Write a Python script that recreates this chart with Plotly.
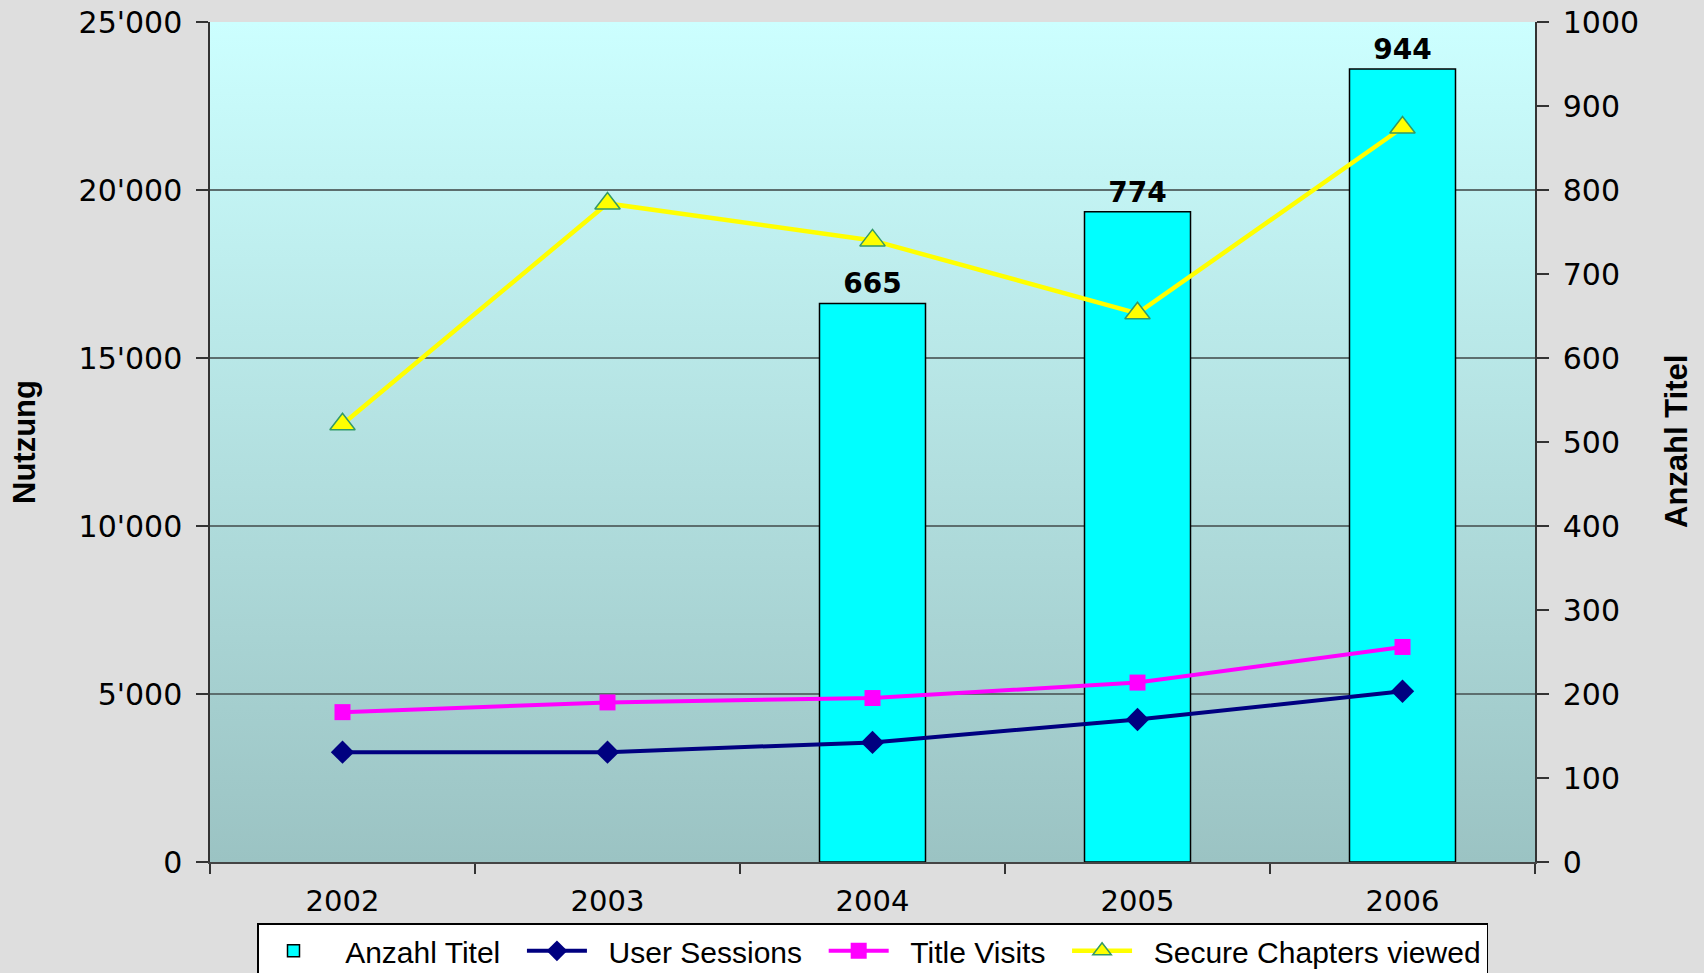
import base64
import plotly.graph_objects as go

years = ["2002", "2003", "2004", "2005", "2006"]
anzahl_titel = [None, None, 665, 774, 944]
user_sessions = [3270, 3270, 3560, 4240, 5080]
title_visits = [4460, 4750, 4880, 5340, 6400]
secure_chapters = [13030, 19600, 18500, 16330, 21860]

left_ticks = [0, 5000, 10000, 15000, 20000, 25000]
left_ticktext = ["0", "5'000", "10'000", "15'000", "20'000", "25'000"]
right_ticks = list(range(0, 1001, 100))

FONT = "DejaVu Sans, Liberation Sans, Arial, sans-serif"
LFONT = "Liberation Sans, Arial, sans-serif"
NB = "\u00a0"

svg = ('<svg xmlns="http://www.w3.org/2000/svg" width="100" height="100" preserveAspectRatio="none">'
       '<defs><linearGradient id="g" x1="0" y1="0" x2="0" y2="1">'
       '<stop offset="0" stop-color="#CCFFFF"/><stop offset="1" stop-color="#9BC3C3"/>'
       '</linearGradient></defs><rect width="100" height="100" fill="url(#g)"/></svg>')
src = "data:image/svg+xml;base64," + base64.b64encode(svg.encode()).decode()

fig = go.Figure()
fig.add_trace(go.Bar(
    x=years, y=anzahl_titel, name=NB * 2 + "Anzahl Titel" + NB * 2, yaxis="y",
    marker=dict(color="#00FFFF", line=dict(color="black", width=1.5)),
    width=0.4,
    text=[("" if v is None else str(v)) for v in anzahl_titel],
    textposition="outside", cliponaxis=False,
    textfont=dict(family=FONT, size=28, color="black", weight="bold"),
))
fig.add_trace(go.Scatter(
    x=years, y=user_sessions, name=NB * 2 + "User Sessions" + NB * 2, mode="lines+markers", yaxis="y2",
    line=dict(color="#000080", width=4),
    marker=dict(symbol="diamond", size=18, color="#000080"),
))
fig.add_trace(go.Scatter(
    x=years, y=title_visits, name=NB * 2 + "Title Visits" + NB * 2, mode="lines+markers", yaxis="y2",
    line=dict(color="#FF00FF", width=4),
    marker=dict(symbol="square", size=16, color="#FF00FF"),
))
fig.add_trace(go.Scatter(
    x=years, y=secure_chapters, name=NB * 2 + "Secure Chapters viewed", mode="lines+markers", yaxis="y2",
    line=dict(color="#FFFF00", width=4.5),
    marker=dict(symbol="triangle-up", size=22, color="#FFFF00", line=dict(color="#339966", width=1.5)),
))

plot_w = 1704 - 210 - 169

fig.update_layout(
    width=1704, height=973,
    margin=dict(l=210, r=169, t=22, b=111, autoexpand=False),
    paper_bgcolor="#DEDEDE",
    plot_bgcolor="rgba(0,0,0,0)",
    font=dict(family=FONT, size=30, color="black"),
    showlegend=True,
    images=[dict(source=src, xref="paper", yref="paper", x=0, y=1, sizex=1, sizey=1,
                 sizing="stretch", layer="below", xanchor="left", yanchor="top")],
    xaxis=dict(
        type="category", range=[-0.5, 4.5], tickson="boundaries",
        ticks="outside", ticklen=10, tickcolor="#333", tickwidth=1.5,
        showline=True, linecolor="#444", linewidth=2, showgrid=False,
        tickfont=dict(size=29, family=FONT), ticklabelstandoff=12,
    ),
    yaxis=dict(
        range=[0, 1000], tickvals=right_ticks, side="right",
        ticks="outside", ticklen=12, tickcolor="#333", tickwidth=1.5,
        showline=True, linecolor="#333", linewidth=1.5, showgrid=False, zeroline=False,
        tickfont=dict(size=30, family=FONT), ticklabelstandoff=8,
    ),
    yaxis2=dict(
        range=[0, 25000], tickvals=left_ticks, ticktext=left_ticktext,
        overlaying="y", side="left",
        ticks="outside", ticklen=12, tickcolor="#333", tickwidth=1.5,
        showline=True, linecolor="#333", linewidth=1.5,
        showgrid=True, gridcolor="#5C6E6E", gridwidth=1.5, zeroline=False,
        tickfont=dict(size=30, family=FONT), ticklabelstandoff=8,
    ),
    legend=dict(
        orientation="h", x=(257 - 210) / plot_w, y=-0.073, xanchor="left", yanchor="top",
        bgcolor="white", bordercolor="black", borderwidth=1.5,
        font=dict(size=30, family=LFONT), traceorder="normal", itemwidth=60,
    ),
    annotations=[
        dict(text="<b>Nutzung</b>", x=(24 - 210) / plot_w, xref="paper", xanchor="center",
             y=0.5, yref="paper", textangle=-90, showarrow=False,
             font=dict(size=31, family=LFONT)),
        dict(text="<b>Anzahl Titel</b>", x=(1676 - 210) / plot_w, xref="paper", xanchor="center",
             y=0.5, yref="paper", textangle=-90, showarrow=False,
             font=dict(size=31, family=LFONT)),
    ],
)

fig.write_html("out.html", config={"displayModeBar": False},
               post_script="document.body.style.margin='0';document.body.style.overflow='hidden';")
